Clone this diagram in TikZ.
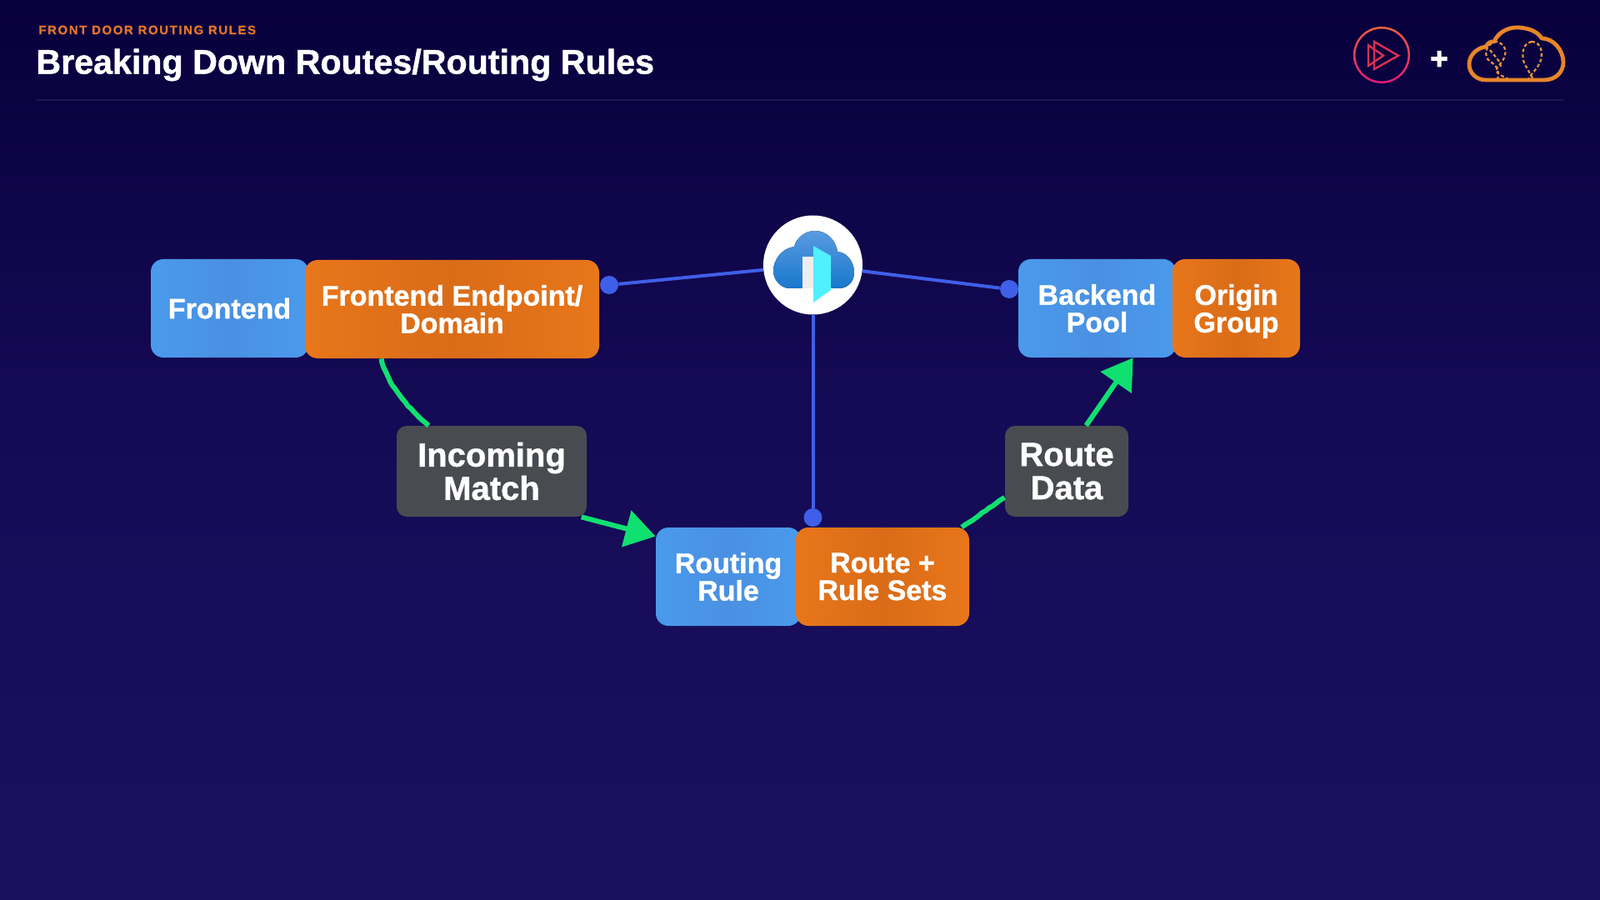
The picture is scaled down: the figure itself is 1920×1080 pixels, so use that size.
\documentclass[tikz,border=0pt]{standalone}
\usepackage{fontspec}
\setmainfont{Liberation Sans}[BoldFeatures={FakeBold=1.1}]
\newfontfamily\subfont[LetterSpace=10.5,BoldFeatures={FakeBold=0.3}]{Liberation Sans}
\newfontfamily\plusfont[BoldFeatures={FakeBold=3}]{Liberation Sans}
\usetikzlibrary{arrows.meta,decorations.pathmorphing}
\definecolor{bgtop}{HTML}{08003C}
\definecolor{bgmid}{HTML}{150A55}
\definecolor{bgbot}{HTML}{1B1060}
\definecolor{bluebox}{HTML}{4A9AEC}
\definecolor{blueboxd}{HTML}{4A90E2}
\definecolor{orangebox}{HTML}{E8761A}
\definecolor{orangeboxd}{HTML}{DA6C18}
\definecolor{graybox}{HTML}{484C50}
\definecolor{wire}{HTML}{3F5FE8}
\definecolor{arrowgreen}{HTML}{10E070}
\definecolor{subt}{HTML}{E8752A}
\definecolor{rulecol}{HTML}{1E1650}
\definecolor{awsor}{HTML}{E8852A}
\definecolor{cloudtop}{HTML}{5A9AE0}
\definecolor{cloudbot}{HTML}{1878CC}
\definecolor{doorcyan}{HTML}{50F0FF}
\definecolor{ringtop}{HTML}{E8603C}
\definecolor{ringbot}{HTML}{E0187A}
\definecolor{playcol}{HTML}{DC3050}
\tikzset{
  box/.style={inner sep=0pt,rounded corners=7.5pt,align=center,text=white,
    font=\fontsize{17}{16.5}\selectfont\bfseries},
  bluecard/.style={box,left color=bluebox,right color=bluebox,middle color=blueboxd},
  orangecard/.style={box,left color=orangebox,right color=orangebox,middle color=orangeboxd},
  graycard/.style={box,fill=graybox,rounded corners=6pt,font=\fontsize{20}{20}\selectfont\bfseries},
  dot/.style={circle,fill=wire,inner sep=0pt,minimum size=11pt},
  wireline/.style={draw=wire,line width=2pt},
  greenrough/.style={draw=arrowgreen,line width=3pt,decorate,decoration={random steps,segment length=2.5pt,amplitude=0.3pt}},
  greenline/.style={draw=arrowgreen,line width=3pt,
    -{Triangle[length=18pt,width=22pt,fill=arrowgreen]}},
  balloon/.style={draw=awsor!90!white,line width=1.1pt,dash pattern=on 2pt off 1.4pt}
}
\begin{document}
\begin{tikzpicture}[x=0.5pt,y=-0.5pt]
\useasboundingbox (0,0) rectangle (1920,1080);
\fill[top color=bgtop,bottom color=bgmid] (0,0) rectangle (1920,500);
\fill[top color=bgmid,bottom color=bgbot] (0,500) rectangle (1920,1080);

% header
\node[anchor=west,inner sep=0pt,text=subt,font=\subfont\fontsize{7.5}{9}\selectfont\bfseries] (sub) at (46,36) {FRONT DOOR ROUTING RULES};
\node[anchor=west,inner sep=0pt,text=white,font=\fontsize{20.6}{24}\selectfont\bfseries] (title) at (43,78) {Breaking Down Routes/Routing Rules};
\draw[rulecol,line width=1.3pt] (43,120) -- (1877,120);

% top-right logos
\path[even odd rule,top color=ringtop,bottom color=ringbot] (1658,66) circle (34) (1658,66) circle (31.5);
\draw[playcol,line width=1.2pt,line join=miter] (1649,50) -- (1678,66.7) -- (1649,83) -- cycle;
\draw[playcol,line width=1.2pt,line join=miter] (1642,54.3) -- (1660,66.7) -- (1642,79) -- cycle;
\node[inner sep=0pt,text=white,font=\plusfont\fontsize{18}{18}\selectfont\bfseries] (plus) at (1727,72) {+};
\draw[awsor,line width=2.4pt,line join=round] (1783,96) -- (1853,96)
  .. controls (1868,96) and (1876,85) .. (1876,75)
  .. controls (1876,60) and (1864,46) .. (1850,46)
  .. controls (1845,37) and (1832,33) .. (1820,33)
  .. controls (1808,33) and (1797,40) .. (1793,50)
  .. controls (1789,49) and (1785,52) .. (1783,56)
  .. controls (1770,58) and (1763,68) .. (1763,77)
  .. controls (1763,88) and (1772,96) .. (1783,96) -- cycle;
\draw[balloon] (1793,50) .. controls (1803,50) and (1808,58) .. (1806,66) .. controls (1804,75) and (1797,78) .. (1795,85) .. controls (1798,90) and (1805,92) .. (1810,95);
\draw[balloon] (1790,52) .. controls (1780,58) and (1782,72) .. (1790,75) .. controls (1795,78) and (1800,85) .. (1797,95);
\draw[balloon] (1788,60) .. controls (1792,66) and (1800,72) .. (1801,80);
\draw[balloon] (1838,50) .. controls (1825,52) and (1826,70) .. (1830,78) .. controls (1835,85) and (1836,90) .. (1840,95);
\draw[balloon] (1838,50) .. controls (1850,50) and (1852,65) .. (1848,75) .. controls (1843,85) and (1836,90) .. (1834,95);

% boxes
\node[bluecard,minimum width=94.5pt,minimum height=59pt] (fr) at (275.5,370) {Frontend};
\node[orangecard,minimum width=176.5pt,minimum height=59pt] (fe) at (542.5,371) {Frontend Endpoint/\\Domain};
\node[bluecard,minimum width=94.5pt,minimum height=59pt] (bp) at (1316.5,370) {Backend\\Pool};
\node[orangecard,minimum width=76.5pt,minimum height=59pt] (og) at (1483.5,370) {Origin\\\raisebox{0pt}[\height][0pt]{Group}};
\node[bluecard,minimum width=87pt,minimum height=59pt] (rr) at (874,692) {Routing\\Rule};
\node[orangecard,minimum width=104pt,minimum height=59pt] (rs) at (1059,692) {Route +\\Rule Sets};
\node[graycard,minimum width=114pt,minimum height=54.5pt] (inc) at (590,565.5) {Incoming\\Match};
\node[graycard,minimum width=74pt,minimum height=54.5pt] (rd) at (1280,565.5) {Route\\Data};

% hub
\node[circle,fill=white,inner sep=0pt,minimum size=59.5pt] (hub) at (975.5,318) {};
\fill[top color=cloudtop,bottom color=cloudbot]
  (948,346) .. controls (937,346) and (928,336) .. (928,325)
  .. controls (928,312) and (938,298) .. (953,296)
  .. controls (956,285) and (966,277) .. (978,277)
  .. controls (992,277) and (1003,288) .. (1005,302)
  .. controls (1017,303) and (1025,315) .. (1025,327)
  .. controls (1025,338) and (1017,346) .. (1007,346) -- cycle;
\fill[black!7] (963,308) rectangle (977,346);
\fill[doorcyan] (976,295) -- (997,307) -- (997,348) -- (976,363) -- cycle;

% dots and wires
\node[dot] (d1) at (731,342) {};
\node[dot] (d2) at (1211,347) {};
\node[dot] (d3) at (975.5,621) {};
\draw[wireline] (d1) -- (hub);
\draw[wireline] (d2) -- (hub);
\draw[wireline] (d3) -- (hub);

% green connectors
\draw[greenrough] (fe.215.6) .. controls +(8,32) and +(-25,-21) .. (inc.144);
\draw[greenline] (inc.-27) -- (rr.151.6);
\draw[greenrough] (rs.32.5) -- (rd.203.7);
\draw[greenline] (rd.67) -- (bp.-54);
\end{tikzpicture}
\end{document}
